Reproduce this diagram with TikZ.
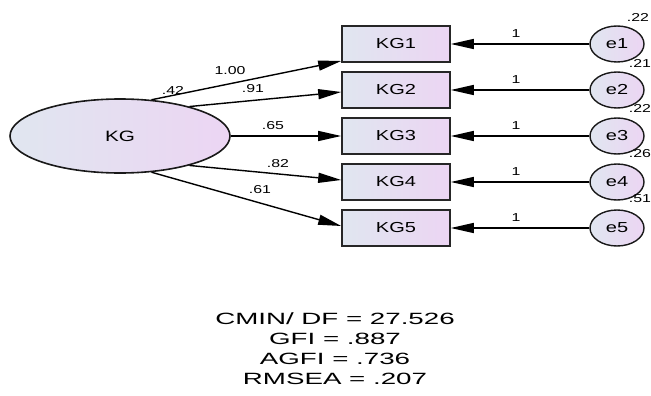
\documentclass[tikz,border=0pt]{standalone}
\usepackage{fontspec}
\setmainfont[FakeStretch=1.38]{Liberation Sans}
\newfontfamily\fitfont[FakeStretch=1.7]{Liberation Sans}
\usetikzlibrary{arrows.meta,shapes.geometric,calc}
\definecolor{fillL}{RGB}{224,230,240}
\definecolor{fillR}{RGB}{236,213,243}
\begin{document}
\begin{tikzpicture}[x=1pt,y=-1pt,
  obs/.style={draw=black!85, line width=1.6pt, minimum width=108pt, minimum height=36pt,
    inner sep=0pt, left color=fillL, right color=fillR, font=\fontsize{14.5}{14.5}\selectfont},
  lat/.style={ellipse, draw=black!90, line width=1.6pt, minimum width=220pt, minimum height=74pt,
    inner sep=0pt, left color=fillL, right color=fillR, font=\fontsize{15}{15}\selectfont},
  err/.style={ellipse, draw=black!90, line width=1.4pt, minimum width=54pt, minimum height=36pt,
    inner sep=0pt, left color=fillL, right color=fillR, font=\fontsize{14.5}{14.5}\selectfont},
  arr/.style={-{Triangle[length=23pt,width=10pt]}, line width=1.4pt},
  lbl/.style={font=\fontsize{11.5}{11.5}\selectfont, inner sep=0pt}]
\useasboundingbox (0,0) rectangle (651,396);
\node[lat] (KG) at (120,136) {KG};
\foreach \i/\y in {1/44,2/90,3/136,4/182,5/228}{
  \node[obs] (KG\i) at (396,\y) {KG\i};
  \node[err] (e\i) at (617,\y) {e\i};
  \draw[arr] (e\i) -- (KG\i);
  \node[lbl] (one\i) at (516,\y-10) {1};
}
\draw[arr] (KG.49) -- ($(KG1.west)+(0,17)$);
\draw[arr] (KG.23) -- ($(KG2.west)+(0,2)$);
\draw[arr] (KG.east) -- (KG3.west);
\draw[arr] (KG.-23) -- ($(KG4.west)+(0,-2)$);
\draw[arr] (KG.-49) -- ($(KG5.west)+(0,-2)$);
\node[lbl] (l1) at (230,71) {1.00};
\node[lbl] (l2) at (253,89) {.91};
\node[lbl] (l3) at (273,126) {.65};
\node[lbl] (l4) at (278,164) {.82};
\node[lbl] (l5) at (260,190) {.61};
\node[lbl] (vKG) at (173,90) {.42};
\node[lbl] (v1) at (638,17) {.22};
\node[lbl] (v2) at (640,63) {.21};
\node[lbl] (v3) at (640,108) {.22};
\node[lbl] (v4) at (640,154) {.26};
\node[lbl] (v5) at (640,199) {.51};
\node[align=center, inner sep=0pt, font=\fitfont\fontsize{16.3}{20}\selectfont] (fit) at (335,349)
  {CMIN/ DF = 27.526\\GFI = .887\\AGFI = .736\\RMSEA = .207};
\end{tikzpicture}
\end{document}
